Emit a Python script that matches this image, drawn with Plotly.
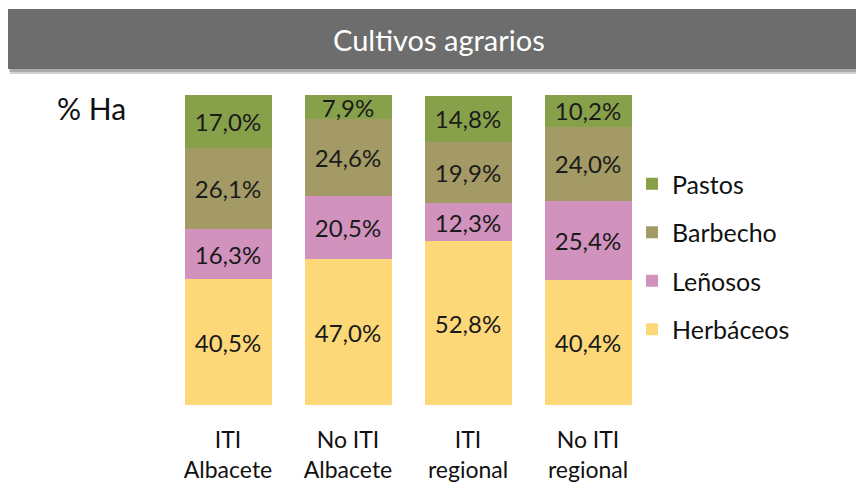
import plotly.graph_objects as go

categories = ["ITI<br>Albacete", "No ITI<br>Albacete", "ITI<br>regional", "No ITI<br>regional"]
series_names = ["Herbáceos", "Leñosos", "Barbecho", "Pastos"]
legend_ranks = [4, 3, 2, 1]
herbaceos = [40.5, 47.0, 52.8, 40.4]
lenosos = [16.3, 20.5, 12.3, 25.4]
barbecho = [26.1, 24.6, 19.9, 24.0]
pastos = [17.0, 7.9, 14.8, 10.2]
colors = ["#fdd878", "#d192bd", "#a39a65", "#87a14b"]

FONT = "Lato"
W, H = 864, 484
OFF = 8  # page body margin offset
# desired screen positions of plot area
SL, SR, ST, SB = 168, 648, 95, 405
ML, MT = SL - OFF, ST - OFF
MR = W - (SR - OFF)
MB = H - (SB - OFF)
PW, PH = W - ML - MR, H - MT - MB

def px_x(p):
    return (p - OFF - ML) / PW

def px_y(p):
    return (H - MB - (p - OFF)) / PH

def fmt(v):
    return f"{v:.1f}".replace(".", ",") + "%"

fig = go.Figure()
for name, vals, col, rk in zip(series_names, [herbaceos, lenosos, barbecho, pastos], colors, legend_ranks):
    fig.add_trace(go.Bar(
        x=categories, y=vals, name=name, legendgroup=name, legendrank=rk,
        marker=dict(color=col, line=dict(width=0)),
        text=[fmt(v) for v in vals], textposition="inside",
        insidetextanchor="middle", constraintext="none",
        textfont=dict(family=FONT, size=24, color="#1a1a1a"),
        hoverinfo="skip",
    ))

shapes = [
    # banner shadow
    dict(type="rect", xref="paper", yref="paper",
         x0=px_x(10), x1=px_x(880), y0=px_y(74), y1=px_y(14),
         fillcolor="rgba(0,0,0,0.18)", line=dict(width=0), layer="above"),
    dict(type="rect", xref="paper", yref="paper",
         x0=px_x(9), x1=px_x(880), y0=px_y(72), y1=px_y(12),
         fillcolor="rgba(0,0,0,0.18)", line=dict(width=0), layer="above"),
    # banner
    dict(type="rect", xref="paper", yref="paper",
         x0=px_x(8), x1=px_x(880), y0=px_y(69), y1=px_y(9),
         fillcolor="#6d6d6d", line=dict(width=0), layer="above"),
]

annotations = [
    dict(text="Cultivos agrarios", xref="paper", yref="paper",
         x=px_x(439), y=px_y(40), xanchor="center", yanchor="middle",
         showarrow=False, font=dict(family=FONT, size=29, color="white")),
    dict(text="% Ha", xref="paper", yref="paper",
         x=px_x(91), y=px_y(108), xanchor="center", yanchor="middle",
         showarrow=False, font=dict(family=FONT, size=30, color="#111111")),
]

fig.update_layout(
    width=W, height=H,
    margin=dict(l=ML, r=MR, t=MT, b=MB, autoexpand=False),
    barmode="stack", bargap=0.275,
    paper_bgcolor="white", plot_bgcolor="white",
    font=dict(family=FONT, color="#111111"),
    shapes=shapes, annotations=annotations,
    legend=dict(
        traceorder="grouped", tracegroupgap=13,
        x=px_x(632), xanchor="left", y=px_y(161), yanchor="top",
        font=dict(family=FONT, size=25, color="#111111"),
        bgcolor="rgba(0,0,0,0)", itemwidth=30,
    ),
    xaxis=dict(showgrid=False, showline=False, zeroline=False,
               tickfont=dict(family=FONT, size=23, color="#111111"),
               ticklabelstandoff=19, range=[-0.5, 3.5]),
    yaxis=dict(range=[0, 100], visible=False, showgrid=False),
)

fig.write_html("out.html")
